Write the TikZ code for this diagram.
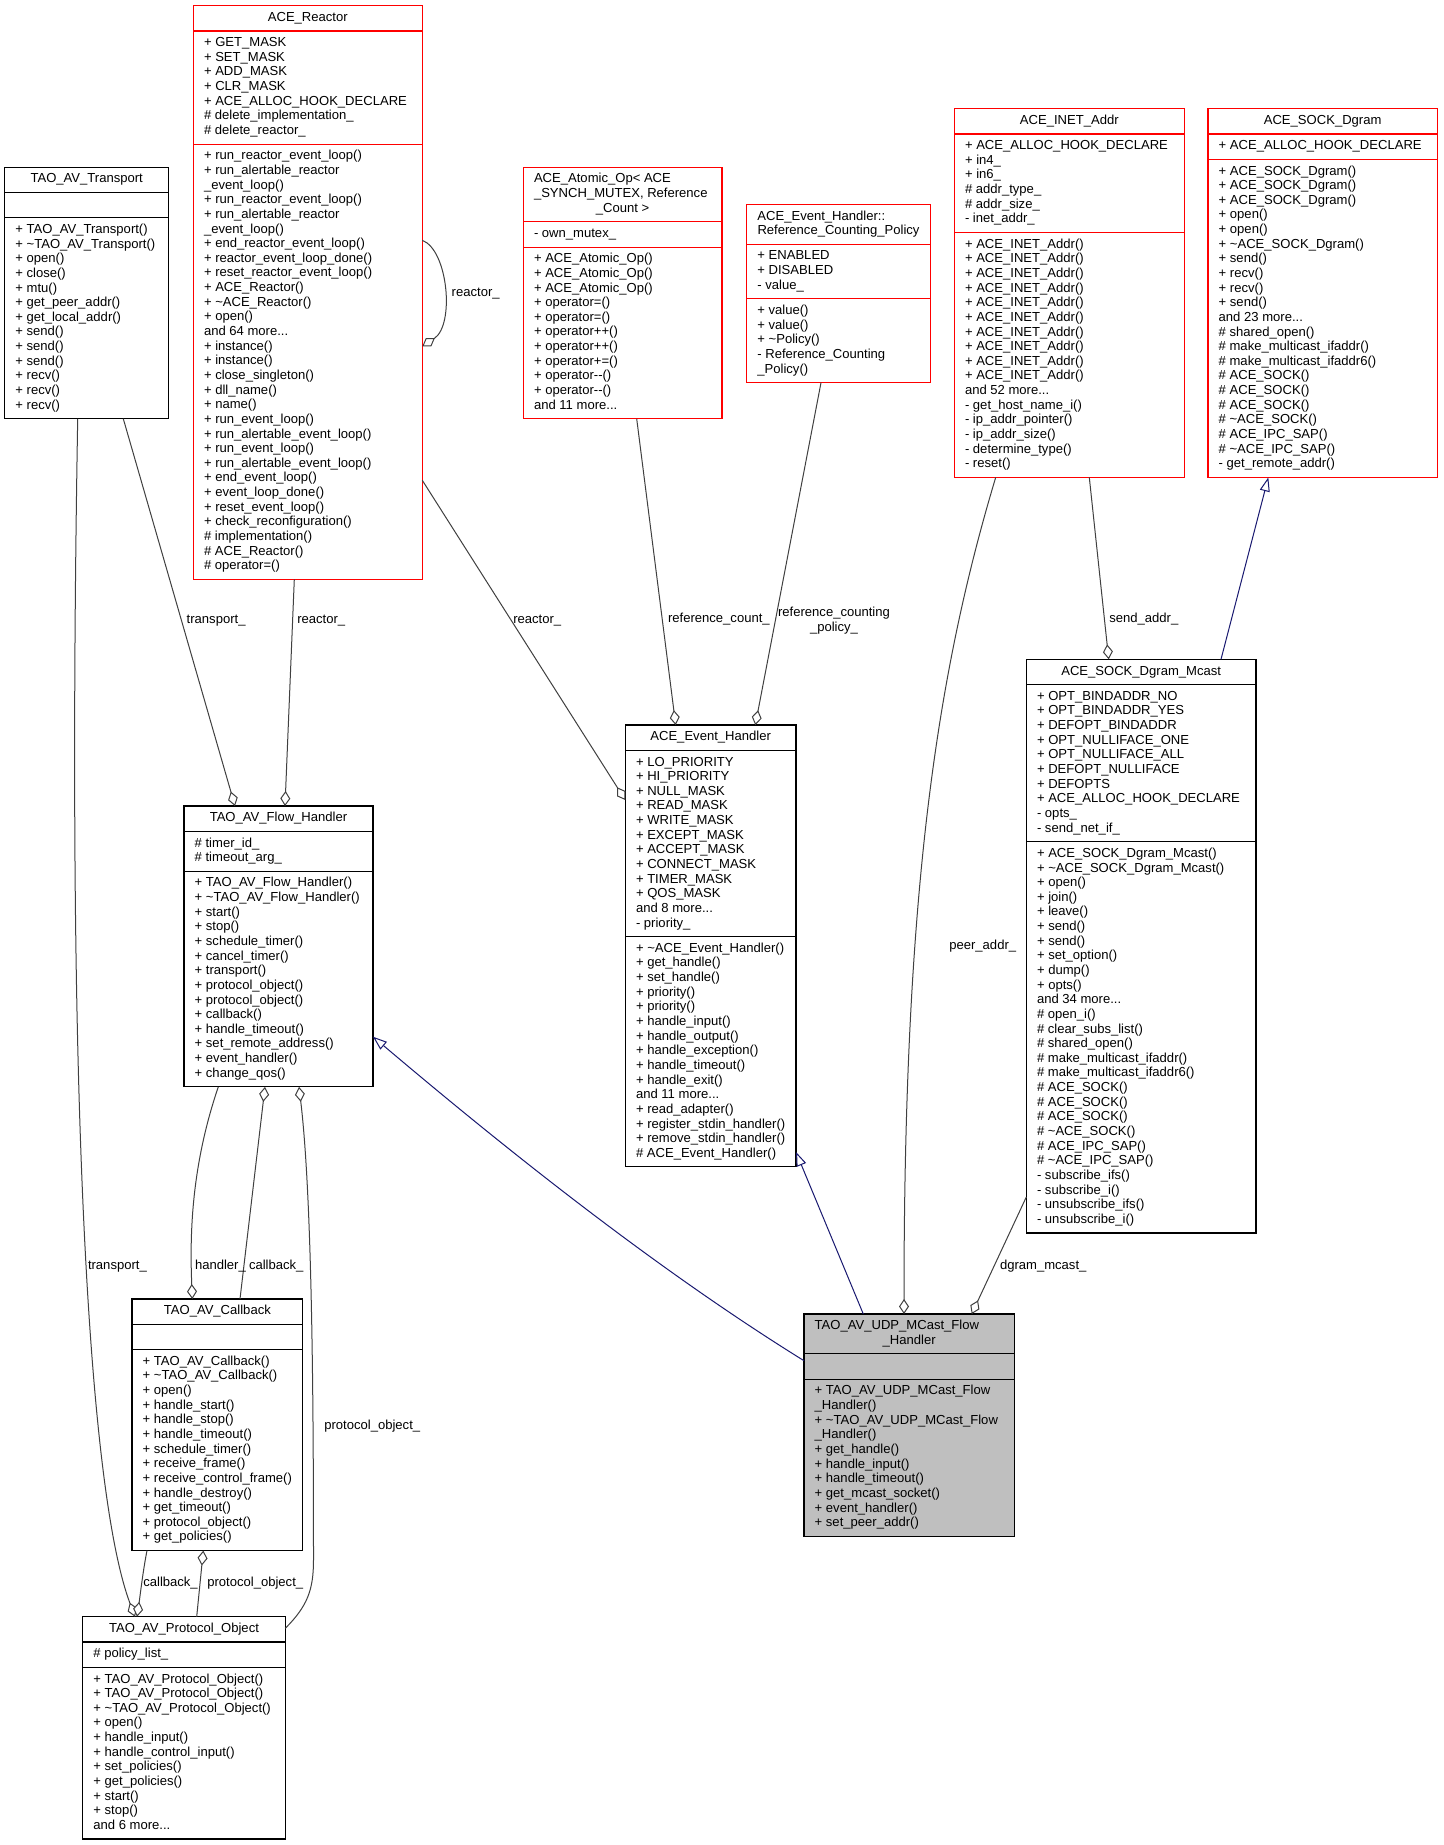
\documentclass[tikz,border=0pt]{standalone}
\usepackage{fontspec}
\setmainfont{Liberation Sans}[Ligatures=TeXOff]
\usetikzlibrary{arrows.meta,calc}
\definecolor{aggcol}{HTML}{404040}
\definecolor{inhcol}{HTML}{191970}
\definecolor{udpfill}{HTML}{BFBFBF}
\definecolor{clsred}{HTML}{FF0000}
\newcommand\classframe[8]{%
  \pgfmathsetmacro\cfA{#4+14.64*#5+10.66}%
  \pgfmathsetmacro\cfB{\cfA+14.64*#6+10.66}%
  \pgfmathsetmacro\cfC{\cfB+14.64*#7+10.66}%
  \pgfmathsetmacro\cfW{(#3-#2)*0.75}%
  \pgfmathsetmacro\cfH{(\cfC-#4)*0.75}%
  \node[#8 box, minimum width=\cfW pt, minimum height=\cfH pt] (#1) at (#2,#4) {};
  \draw[#8 line] (#2,\cfA) -- (#3,\cfA) (#2,\cfB) -- (#3,\cfB);
  \coordinate (#1-h) at ({#2+10.7},{#4+5.45});
  \coordinate (#1-c) at ({(#2+#3)/2},{#4+5.45});
  \coordinate (#1-a) at ({#2+10.7},{\cfA+5.45});
  \coordinate (#1-m) at ({#2+10.7},{\cfB+5.45});
}
\begin{document}
\begin{tikzpicture}[x=0.75pt,y=-0.75pt,
  rc box/.style={draw=clsred, fill=white, line width=0.8pt, anchor=north west, inner sep=0pt, outer sep=0pt},
  rc line/.style={draw=clsred, line width=0.8pt},
  bc box/.style={draw=black, fill=white, line width=0.8pt, anchor=north west, inner sep=0pt, outer sep=0pt},
  bc line/.style={draw=black, line width=0.8pt},
  gc box/.style={draw=black, fill=udpfill, line width=0.8pt, anchor=north west, inner sep=0pt, outer sep=0pt},
  gc line/.style={bc line},
  txt/.style={font=\fontsize{9.8pt}{10.98pt}\selectfont, anchor=north west, inner sep=0pt, outer sep=0pt, align=left},
  hdr/.style={txt, anchor=north, align=center},
  lbl/.style={font=\fontsize{9.8pt}{10.98pt}\selectfont, anchor=base west, inner sep=0pt, outer sep=0pt},
  lblc/.style={txt, anchor=north, align=center},
  agg/.style={draw=aggcol, line width=0.75pt, -{Diamond[fill=white,length=11.25pt,width=7.5pt,line width=0.75pt]}},
  inh/.style={draw=inhcol, line width=0.75pt, -{Triangle[fill=white,length=10.5pt,width=7.5pt,line width=0.75pt]}}]
\fill[white] (0,0) rectangle (1443,1845);
\useasboundingbox (0,0) rectangle (1443,1845);

% ---------- class frames ----------
\classframe{transport}{4.7}{168.7}{167.2}{1}{1}{13}{bc}
\classframe{reactor}{193.3}{422.3}{5.7}{1}{7}{29}{rc}
\classframe{atomic}{523.3}{722}{167.2}{3}{1}{11}{rc}
\classframe{policy}{746.7}{930.3}{204.3}{2}{3}{5}{rc}
\classframe{inet}{954.3}{1184.3}{108.7}{1}{6}{16}{rc}
\classframe{sock}{1208}{1437.3}{108.7}{1}{1}{21}{rc}
\classframe{flow}{184}{373}{806}{1}{2}{14}{bc}
\classframe{eh}{625.3}{796}{725}{1}{12}{15}{bc}
\classframe{mcast}{1026.3}{1256}{659.3}{1}{10}{26}{bc}
\classframe{cb}{132}{302.7}{1299}{1}{1}{13}{bc}
\classframe{po}{82.7}{285.3}{1616.7}{1}{1}{11}{bc}
\classframe{udp}{804}{1014.3}{1314}{2}{1}{10}{gc}

% ---------- texts ----------
\node[hdr] (transport-t) at (transport-c) {\strut TAO\_AV\_Transport};
\node[txt] (transport-mt) at (transport-m) {\strut + TAO\_AV\_Transport()\\
+ \textasciitilde TAO\_AV\_Transport()\\
+ open()\\
+ close()\\
+ mtu()\\
+ get\_peer\_addr()\\
+ get\_local\_addr()\\
+ send()\\
+ send()\\
+ send()\\
+ recv()\\
+ recv()\\
+ recv()};

\node[hdr] (reactor-t) at (reactor-c) {\strut ACE\_Reactor};
\node[txt] (reactor-at) at (reactor-a) {\strut + GET\_MASK\\
+ SET\_MASK\\
+ ADD\_MASK\\
+ CLR\_MASK\\
+ ACE\_ALLOC\_HOOK\_DECLARE\\
\# delete\_implementation\_\\
\# delete\_reactor\_};
\node[txt] (reactor-mt) at (reactor-m) {\strut + run\_reactor\_event\_loop()\\
+ run\_alertable\_reactor\\
\_event\_loop()\\
+ run\_reactor\_event\_loop()\\
+ run\_alertable\_reactor\\
\_event\_loop()\\
+ end\_reactor\_event\_loop()\\
+ reactor\_event\_loop\_done()\\
+ reset\_reactor\_event\_loop()\\
+ ACE\_Reactor()\\
+ \textasciitilde ACE\_Reactor()\\
+ open()\\
and 64 more...\\
+ instance()\\
+ instance()\\
+ close\_singleton()\\
+ dll\_name()\\
+ name()\\
+ run\_event\_loop()\\
+ run\_alertable\_event\_loop()\\
+ run\_event\_loop()\\
+ run\_alertable\_event\_loop()\\
+ end\_event\_loop()\\
+ event\_loop\_done()\\
+ reset\_event\_loop()\\
+ check\_reconfiguration()\\
\# implementation()\\
\# ACE\_Reactor()\\
\# operator=()};

\node[txt] (atomic-t) at (atomic-h) {\strut ACE\_Atomic\_Op< ACE\\
\_SYNCH\_MUTEX, Reference};
\node[hdr] (atomic-t2) at ($(atomic-c)+(0,29.28)$) {\strut \_Count >};
\node[txt] (atomic-at) at (atomic-a) {\strut - own\_mutex\_};
\node[txt] (atomic-mt) at (atomic-m) {\strut + ACE\_Atomic\_Op()\\
+ ACE\_Atomic\_Op()\\
+ ACE\_Atomic\_Op()\\
+ operator=()\\
+ operator=()\\
+ operator++()\\
+ operator++()\\
+ operator+=()\\
+ operator--()\\
+ operator--()\\
and 11 more...};

\node[txt] (policy-t) at (policy-h) {\strut ACE\_Event\_Handler::};
\node[hdr] (policy-t2) at ($(policy-c)+(0,14.64)$) {\strut Reference\_Counting\_Policy};
\node[txt] (policy-at) at (policy-a) {\strut + ENABLED\\
+ DISABLED\\
- value\_};
\node[txt] (policy-mt) at (policy-m) {\strut + value()\\
+ value()\\
+ \textasciitilde Policy()\\
- Reference\_Counting\\
\_Policy()};

\node[hdr] (inet-t) at (inet-c) {\strut ACE\_INET\_Addr};
\node[txt] (inet-at) at (inet-a) {\strut + ACE\_ALLOC\_HOOK\_DECLARE\\
+ in4\_\\
+ in6\_\\
\# addr\_type\_\\
\# addr\_size\_\\
- inet\_addr\_};
\node[txt] (inet-mt) at (inet-m) {\strut + ACE\_INET\_Addr()\\
+ ACE\_INET\_Addr()\\
+ ACE\_INET\_Addr()\\
+ ACE\_INET\_Addr()\\
+ ACE\_INET\_Addr()\\
+ ACE\_INET\_Addr()\\
+ ACE\_INET\_Addr()\\
+ ACE\_INET\_Addr()\\
+ ACE\_INET\_Addr()\\
+ ACE\_INET\_Addr()\\
and 52 more...\\
- get\_host\_name\_i()\\
- ip\_addr\_pointer()\\
- ip\_addr\_size()\\
- determine\_type()\\
- reset()};

\node[hdr] (sock-t) at (sock-c) {\strut ACE\_SOCK\_Dgram};
\node[txt] (sock-at) at (sock-a) {\strut + ACE\_ALLOC\_HOOK\_DECLARE};
\node[txt] (sock-mt) at (sock-m) {\strut + ACE\_SOCK\_Dgram()\\
+ ACE\_SOCK\_Dgram()\\
+ ACE\_SOCK\_Dgram()\\
+ open()\\
+ open()\\
+ \textasciitilde ACE\_SOCK\_Dgram()\\
+ send()\\
+ recv()\\
+ recv()\\
+ send()\\
and 23 more...\\
\# shared\_open()\\
\# make\_multicast\_ifaddr()\\
\# make\_multicast\_ifaddr6()\\
\# ACE\_SOCK()\\
\# ACE\_SOCK()\\
\# ACE\_SOCK()\\
\# \textasciitilde ACE\_SOCK()\\
\# ACE\_IPC\_SAP()\\
\# \textasciitilde ACE\_IPC\_SAP()\\
- get\_remote\_addr()};

\node[hdr] (flow-t) at (flow-c) {\strut TAO\_AV\_Flow\_Handler};
\node[txt] (flow-at) at (flow-a) {\strut \# timer\_id\_\\
\# timeout\_arg\_};
\node[txt] (flow-mt) at (flow-m) {\strut + TAO\_AV\_Flow\_Handler()\\
+ \textasciitilde TAO\_AV\_Flow\_Handler()\\
+ start()\\
+ stop()\\
+ schedule\_timer()\\
+ cancel\_timer()\\
+ transport()\\
+ protocol\_object()\\
+ protocol\_object()\\
+ callback()\\
+ handle\_timeout()\\
+ set\_remote\_address()\\
+ event\_handler()\\
+ change\_qos()};

\node[hdr] (eh-t) at (eh-c) {\strut ACE\_Event\_Handler};
\node[txt] (eh-at) at (eh-a) {\strut + LO\_PRIORITY\\
+ HI\_PRIORITY\\
+ NULL\_MASK\\
+ READ\_MASK\\
+ WRITE\_MASK\\
+ EXCEPT\_MASK\\
+ ACCEPT\_MASK\\
+ CONNECT\_MASK\\
+ TIMER\_MASK\\
+ QOS\_MASK\\
and 8 more...\\
- priority\_};
\node[txt] (eh-mt) at (eh-m) {\strut + \textasciitilde ACE\_Event\_Handler()\\
+ get\_handle()\\
+ set\_handle()\\
+ priority()\\
+ priority()\\
+ handle\_input()\\
+ handle\_output()\\
+ handle\_exception()\\
+ handle\_timeout()\\
+ handle\_exit()\\
and 11 more...\\
+ read\_adapter()\\
+ register\_stdin\_handler()\\
+ remove\_stdin\_handler()\\
\# ACE\_Event\_Handler()};

\node[hdr] (mcast-t) at (mcast-c) {\strut ACE\_SOCK\_Dgram\_Mcast};
\node[txt] (mcast-at) at (mcast-a) {\strut + OPT\_BINDADDR\_NO\\
+ OPT\_BINDADDR\_YES\\
+ DEFOPT\_BINDADDR\\
+ OPT\_NULLIFACE\_ONE\\
+ OPT\_NULLIFACE\_ALL\\
+ DEFOPT\_NULLIFACE\\
+ DEFOPTS\\
+ ACE\_ALLOC\_HOOK\_DECLARE\\
- opts\_\\
- send\_net\_if\_};
\node[txt] (mcast-mt) at (mcast-m) {\strut + ACE\_SOCK\_Dgram\_Mcast()\\
+ \textasciitilde ACE\_SOCK\_Dgram\_Mcast()\\
+ open()\\
+ join()\\
+ leave()\\
+ send()\\
+ send()\\
+ set\_option()\\
+ dump()\\
+ opts()\\
and 34 more...\\
\# open\_i()\\
\# clear\_subs\_list()\\
\# shared\_open()\\
\# make\_multicast\_ifaddr()\\
\# make\_multicast\_ifaddr6()\\
\# ACE\_SOCK()\\
\# ACE\_SOCK()\\
\# ACE\_SOCK()\\
\# \textasciitilde ACE\_SOCK()\\
\# ACE\_IPC\_SAP()\\
\# \textasciitilde ACE\_IPC\_SAP()\\
- subscribe\_ifs()\\
- subscribe\_i()\\
- unsubscribe\_ifs()\\
- unsubscribe\_i()};

\node[hdr] (cb-t) at (cb-c) {\strut TAO\_AV\_Callback};
\node[txt] (cb-mt) at (cb-m) {\strut + TAO\_AV\_Callback()\\
+ \textasciitilde TAO\_AV\_Callback()\\
+ open()\\
+ handle\_start()\\
+ handle\_stop()\\
+ handle\_timeout()\\
+ schedule\_timer()\\
+ receive\_frame()\\
+ receive\_control\_frame()\\
+ handle\_destroy()\\
+ get\_timeout()\\
+ protocol\_object()\\
+ get\_policies()};

\node[hdr] (po-t) at (po-c) {\strut TAO\_AV\_Protocol\_Object};
\node[txt] (po-at) at (po-a) {\strut \# policy\_list\_};
\node[txt] (po-mt) at (po-m) {\strut + TAO\_AV\_Protocol\_Object()\\
+ TAO\_AV\_Protocol\_Object()\\
+ \textasciitilde TAO\_AV\_Protocol\_Object()\\
+ open()\\
+ handle\_input()\\
+ handle\_control\_input()\\
+ set\_policies()\\
+ get\_policies()\\
+ start()\\
+ stop()\\
and 6 more...};

\node[txt] (udp-t) at (udp-h) {\strut TAO\_AV\_UDP\_MCast\_Flow};
\node[hdr] (udp-t2) at ($(udp-c)+(0,14.64)$) {\strut \_Handler};
\node[txt] (udp-mt) at (udp-m) {\strut + TAO\_AV\_UDP\_MCast\_Flow\\
\_Handler()\\
+ \textasciitilde TAO\_AV\_UDP\_MCast\_Flow\\
\_Handler()\\
+ get\_handle()\\
+ handle\_input()\\
+ handle\_timeout()\\
+ get\_mcast\_socket()\\
+ event\_handler()\\
+ set\_peer\_addr()};

% ---------- connectors ----------
\draw[agg] ($(transport.south west)+(118.6,0)$) -- ($(flow.north west)+(51,0)$);
\draw[agg] ($(reactor.south west)+(101,0)$) -- ($(flow.north west)+(101,0)$);
\draw[agg] ($(reactor.north east)+(0,234.6)$) .. controls +(25.7,9.7) and +(32.7,-21.3) .. ($(reactor.north east)+(0,340.6)$);
\draw[agg] ($(reactor.north east)+(0,474.6)$) -- ($(eh.north west)+(0,75)$);
\draw[agg] ($(atomic.south west)+(113.4,0)$) -- ($(eh.north west)+(50.4,0)$);
\draw[agg] ($(policy.south west)+(74.3,0)$) -- ($(eh.north west)+(130,0)$);
\draw[agg] ($(inet.south west)+(41.4,0)$) .. controls +(-60.7,202) and +(0,-414) .. ($(udp.north west)+(100,0)$);
\draw[agg] ($(inet.south west)+(135,0)$) -- ($(mcast.north west)+(82.4,0)$);
\draw[inh] ($(mcast.north west)+(194.7,0)$) -- ($(sock.south west)+(60.3,0)$);
\draw[agg] ($(mcast.north west)+(0,537.7)$) -- ($(udp.north west)+(167.7,0)$);
\draw[inh] ($(udp.north west)+(59.3,0)$) -- ($(eh.north east)+(0,427)$);
\draw[inh] ($(udp.north west)+(0,46.7)$) .. controls +(-150,-93) and +(130,110) .. ($(flow.north east)+(0,230.7)$);
\draw[agg] ($(flow.south west)+(34.3,0)$) .. controls +(-28.3,83) and +(-2.3,-59) .. ($(cb.north west)+(60.3,0)$);
\draw[agg] ($(cb.north west)+(108,0)$) -- ($(flow.south west)+(81,0)$);
\draw[agg] ($(po.north east)+(0,11.6)$) .. controls +(22,-22) and +(0,30) .. ($(po.north east)+(28.2,-56.7)$)
   .. controls +(0,-200) and +(12,100) .. ($(flow.south west)+(115,0)$);
\draw[agg] ($(transport.south west)+(73,0)$) .. controls +(-12,700) and +(-45,-120) .. ($(po.north west)+(52.3,0)$);
\draw[agg] ($(cb.south west)+(15,0)$) .. controls +(-4,20) and +(3,-20) .. ($(po.north west)+(54.3,0)$);
\draw[agg] ($(po.north west)+(114,0)$) -- ($(cb.south west)+(71.3,0)$);

% ---------- connector labels ----------
\node[lbl] (l-rself) at (451.7,296.7) {reactor\_};
\node[lbl] (l-tr1) at (186.7,623) {transport\_};
\node[lbl] (l-re1) at (297.3,623) {reactor\_};
\node[lbl] (l-re2) at (513.3,623) {reactor\_};
\node[lbl] (l-rc) at (668,622.3) {reference\_count\_};
\node[lblc] (l-rcp) at (834,606.2) {\strut reference\_counting\\\_policy\_};
\node[lbl] (l-peer) at (949.3,949.4) {peer\_addr\_};
\node[lbl] (l-send) at (1109.3,622.7) {send\_addr\_};
\node[lbl] (l-dgm) at (1000,1269.7) {dgram\_mcast\_};
\node[lbl] (l-tr2) at (88,1269.7) {transport\_};
\node[lbl] (l-hd) at (195,1269.7) {handler\_};
\node[lbl] (l-cb1) at (249,1269.7) {callback\_};
\node[lbl] (l-po1) at (324.3,1429) {protocol\_object\_};
\node[lbl] (l-cb2) at (143.3,1586.7) {callback\_};
\node[lbl] (l-po2) at (207.3,1586.7) {protocol\_object\_};
\end{tikzpicture}
\end{document}
